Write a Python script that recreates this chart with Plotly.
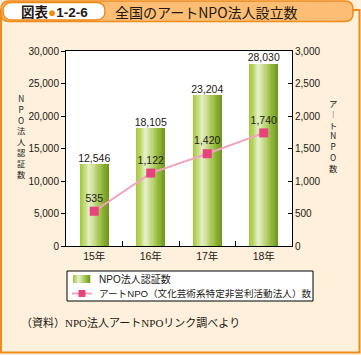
import plotly.graph_objects as go

# ---------------- data ----------------
categories = ["15年", "16年", "17年", "18年"]
npo_certified = [12546, 18105, 23204, 28030]
art_npo = [535, 1122, 1420, 1740]
left_ticks = [0, 5000, 10000, 15000, 20000, 25000, 30000]
right_ticks = [0, 500, 1000, 1500, 2000, 2500, 3000]
bar_name = "NPO法人認証数"
line_name = "アートNPO（文化芸術系特定非営利活動法人）数"
left_title_chars = ["N", "P", "O", "法", "人", "認", "証", "数"]
right_title_chars = ["ア", "︱", "ト", "N", "P", "O", "数"]
fig_label = "図表"
fig_number = "1-2-6"
title_text = "全国のアートNPO法人設立数"
source_text = "（資料）NPO法人アートNPOリンク調べより"

# ---------------- geometry helpers ----------------
W, H = 361, 355
L, R, T, B = 66, 292, 51, 246
PW, PH = R - L, B - T


def px(x):
    return (x - L) / PW


def py(y):
    return (B - y) / PH


def rounded_path(x0, y0, x1, y1, r):
    pts = [
        f"M{px(x0 + r)},{py(y0)}",
        f"L{px(x1 - r)},{py(y0)}",
        f"Q{px(x1)},{py(y0)} {px(x1)},{py(y0 + r)}",
        f"L{px(x1)},{py(y1 - r)}",
        f"Q{px(x1)},{py(y1)} {px(x1 - r)},{py(y1)}",
        f"L{px(x0 + r)},{py(y1)}",
        f"Q{px(x0)},{py(y1)} {px(x0)},{py(y1 - r)}",
        f"L{px(x0)},{py(y0 + r)}",
        f"Q{px(x0)},{py(y0)} {px(x0 + r)},{py(y0)}",
        "Z",
    ]
    return " ".join(pts)


stops = [
    (0.0, (0xA2, 0xC8, 0x32)),
    (0.12, (0xB6, 0xD4, 0x5E)),
    (0.33, (0xE6, 0xEF, 0xCA)),
    (0.5, (0xCA, 0xDD, 0x90)),
    (0.75, (0x9A, 0xBE, 0x42)),
    (1.0, (0x6E, 0x98, 0x1E)),
]


def grad(t):
    for (t0, c0), (t1, c1) in zip(stops[:-1], stops[1:]):
        if t0 <= t <= t1:
            f = (t - t0) / (t1 - t0)
            c = [round(a + (b - a) * f) for a, b in zip(c0, c1)]
            return "rgb(%d,%d,%d)" % tuple(c)
    return "rgb(110,152,30)"


FONT = "Liberation Sans, Arial, Noto Sans CJK JP, sans-serif"
CJK = "Noto Sans CJK JP, sans-serif"
TXT = "#231815"

fig = go.Figure()

# gradient bars: overlay of thin slices
N = 24
BW = 0.5
sw = BW / N
for i in range(N):
    fig.add_trace(go.Bar(
        x=categories, y=npo_certified,
        width=sw * (1.25 if i < N - 1 else 1.0),
        offset=-BW / 2 + i * sw,
        marker=dict(color=grad((i + 0.5) / N), line=dict(width=0)),
        showlegend=False, hoverinfo="skip", name=bar_name,
    ))

# bar value labels
fig.add_trace(go.Scatter(
    x=categories, y=npo_certified, mode="text",
    text=[f"{v:,}" for v in npo_certified], textposition="top center",
    textfont=dict(size=10.5, color=TXT, family=FONT),
    showlegend=False, cliponaxis=False, hoverinfo="skip",
))

# line
fig.add_trace(go.Scatter(
    x=categories, y=art_npo, yaxis="y2", mode="lines+markers+text",
    line=dict(color="#F4A3BD", width=2),
    marker=dict(symbol="square", size=9, color="#E8437C"),
    text=[f"{v:,}" for v in art_npo], textposition="top center",
    textfont=dict(size=10.5, color=TXT, family=FONT),
    showlegend=False, cliponaxis=False, name=line_name,
))

shapes = []
ann = []
ORANGE = "#EF8B1C"

# outer panel border
shapes.append(dict(type="rect", xref="paper", yref="paper",
                   x0=px(1), x1=px(359.5), y0=py(10), y1=py(352.5),
                   line=dict(color=ORANGE, width=2), fillcolor="rgba(0,0,0,0)", layer="below"))
# title strip
shapes.append(dict(type="path", xref="paper", yref="paper",
                   path=rounded_path(1, 1, 353, 21.5, 8),
                   line=dict(color=ORANGE, width=1.5), fillcolor="#FBBE74", layer="below"))
# white pill
shapes.append(dict(type="path", xref="paper", yref="paper",
                   path=rounded_path(3, 2.5, 105, 20, 8.7),
                   line=dict(color=ORANGE, width=1.5), fillcolor="white", layer="below"))

ann.append(dict(xref="paper", yref="paper", x=px(54), y=py(11.5), xanchor="center", yanchor="middle",
                text=f"<b>{fig_label}</b><span style='color:#F08C00'>●</span><b>{fig_number}</b>",
                showarrow=False, font=dict(size=13.5, color=TXT, family=FONT)))
ann.append(dict(xref="paper", yref="paper", x=px(113), y=py(11.5), xanchor="left", yanchor="middle",
                text=title_text, showarrow=False, font=dict(size=14, color=TXT, family=CJK)))

# vertical axis titles (stacked characters)
ann.append(dict(xref="paper", yref="paper", x=px(21.5), y=py(136), xanchor="center", yanchor="middle",
                text="<br>".join(left_title_chars), showarrow=False,
                font=dict(size=8.3, color="#1a1a1a", family=CJK)))
ann.append(dict(xref="paper", yref="paper", x=px(333), y=py(135), xanchor="center", yanchor="middle",
                text="<br>".join(right_title_chars), showarrow=False,
                font=dict(size=8.3, color="#1a1a1a", family=CJK)))

# custom legend
shapes.append(dict(type="rect", xref="paper", yref="paper",
                   x0=px(67), x1=px(313), y0=py(271), y1=py(301),
                   line=dict(color="black", width=1), fillcolor="white", layer="above"))
ns = 8
for i in range(ns):
    x0 = 73 + i * 17 / ns
    shapes.append(dict(type="rect", xref="paper", yref="paper",
                       x0=px(x0), x1=px(x0 + 17 / ns + 0.3), y0=py(275), y1=py(283),
                       line=dict(width=0), fillcolor=grad((i + 0.5) / ns), layer="above"))
shapes.append(dict(type="line", xref="paper", yref="paper",
                   x0=px(72), x1=px(92), y0=py(293.5), y1=py(293.5),
                   line=dict(color="#F4A3BD", width=2), layer="above"))
shapes.append(dict(type="rect", xref="paper", yref="paper",
                   x0=px(78.5), x1=px(85.5), y0=py(290), y1=py(297),
                   line=dict(width=0), fillcolor="#E8437C", layer="above"))
ann.append(dict(xref="paper", yref="paper", x=px(97), y=py(279), xanchor="left", yanchor="middle",
                text=bar_name, showarrow=False, font=dict(size=10, color=TXT, family=FONT)))
ann.append(dict(xref="paper", yref="paper", x=px(97), y=py(293.5), xanchor="left", yanchor="middle",
                text=line_name, showarrow=False, font=dict(size=9.6, color=TXT, family=FONT)))

# source
ann.append(dict(xref="paper", yref="paper", x=px(19), y=py(322), xanchor="left", yanchor="middle",
                text=source_text, showarrow=False,
                font=dict(size=11, color=TXT, family="Liberation Serif, Noto Sans CJK JP, serif")))

fig.update_layout(
    width=W, height=H,
    margin=dict(l=L, r=W - R, t=T, b=H - B, pad=0),
    paper_bgcolor="#FEF0DA", plot_bgcolor="white",
    barmode="overlay", bargap=0,
    showlegend=False,
    font=dict(family=FONT, color=TXT, size=10),
    shapes=shapes, annotations=ann,
    xaxis=dict(type="category", showline=True, linecolor="black", linewidth=1, mirror=True,
               ticks="inside", tickson="boundaries", ticklen=5, tickcolor="black",
               showgrid=False, tickfont=dict(size=10.5, family=FONT, color=TXT),
               range=[-0.5, 3.5]),
    yaxis=dict(range=[0, 30000], tickvals=left_ticks, tickformat=",", showline=True,
               linecolor="black", linewidth=1, ticks="outside", ticklen=4, tickcolor="black",
               showgrid=False, zeroline=False, tickfont=dict(size=10, family=FONT, color=TXT)),
    yaxis2=dict(range=[0, 3000], tickvals=right_ticks, tickformat=",", overlaying="y", side="right",
                anchor="x", showline=True, linecolor="black", linewidth=1, ticks="inside", ticklen=4,
                tickcolor="black", showgrid=False, zeroline=False,
                tickfont=dict(size=10, family=FONT, color=TXT)),
)

fig.write_html(
    "out.html",
    config={"displayModeBar": False},
    post_script="document.body.style.margin='0';document.body.style.overflow='hidden';",
)
